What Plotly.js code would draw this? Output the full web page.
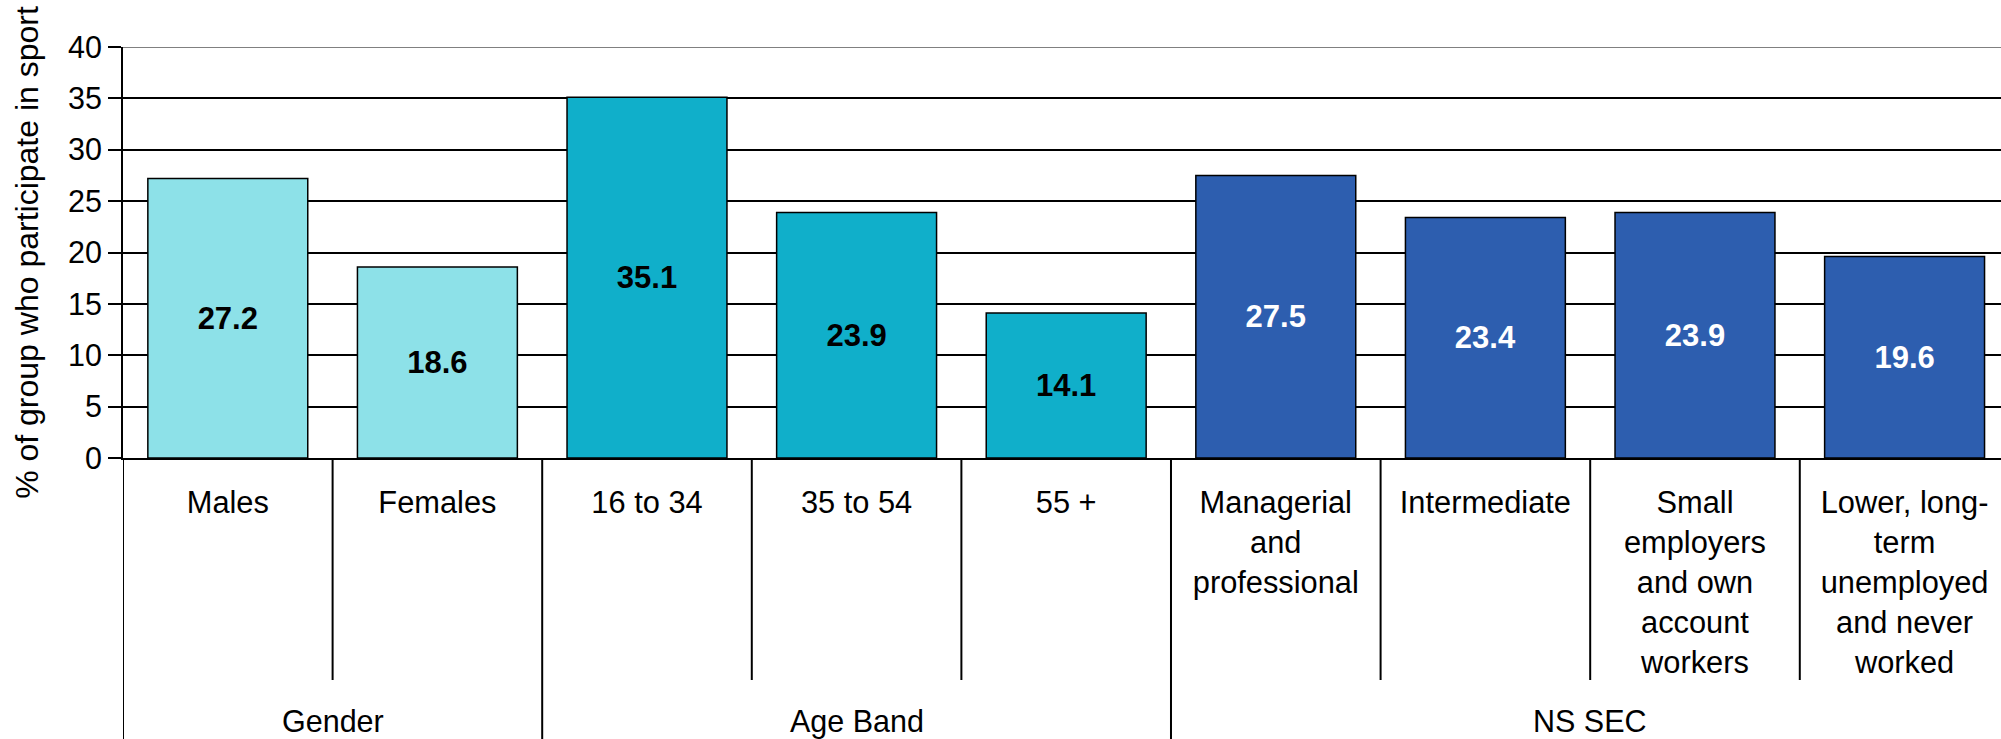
<!DOCTYPE html>
<html>
<head>
<meta charset="utf-8">
<script src="https://cdn.plot.ly/plotly-3.0.1.min.js"></script>
<style>html,body{margin:0;padding:0;background:#fff;}#chart{width:2001px;height:739px;}</style>
</head>
<body>
<div id="chart"></div>
<script>
// ---- data ----
const categories = ["Males", "Females", "16 to 34", "35 to 54", "55 +",
  "Managerial<br>and<br>professional", "Intermediate",
  "Small<br>employers<br>and own<br>account<br>workers",
  "Lower, long-<br>term<br>unemployed<br>and never<br>worked"];
const groups = ["Gender", "Gender", "Age Band", "Age Band", "Age Band",
  "NS SEC", "NS SEC", "NS SEC", "NS SEC"];
const values = [27.2, 18.6, 35.1, 23.9, 14.1, 27.5, 23.4, 23.9, 19.6];
const yTicks = [0, 5, 10, 15, 20, 25, 30, 35, 40];
const yTitle = "% of group who participate in sport";

// ---- styles ----
const groupColor = {"Gender": "#8DE1E8", "Age Band": "#10AFCA", "NS SEC": "#2D5EAF"};
const groupTextColor = {"Gender": "#000000", "Age Band": "#000000", "NS SEC": "#FFFFFF"};
const FONT = "Liberation Sans, Arial, sans-serif";

const xs = categories.map((_, i) => i);

const trace = {
  type: "bar",
  x: xs,
  y: values,
  marker: {color: groups.map(g => groupColor[g]), line: {color: "#000", width: 1.5}},
  text: values.map(v => v.toFixed(1)),
  texttemplate: "<b>%{text}</b>",
  textposition: "inside",
  insidetextanchor: "middle",
  textangle: 0,
  constraintext: "none",
  insidetextfont: {family: FONT, size: 31, color: groups.map(g => groupTextColor[g])},
  hoverinfo: "skip"
};

// dividers below axis
const shapes = [];
const LONG = -(739 - 458) / 411, SHORT = -(680 - 458) / 411;
shapes.push({type: "line", xref: "x", yref: "paper", x0: -0.5, x1: -0.5, y0: 0, y1: LONG,
  line: {color: "#000", width: 2}});
for (let i = 0; i < categories.length - 1; i++) {
  const isGroup = groups[i] !== groups[i + 1];
  shapes.push({type: "line", xref: "x", yref: "paper", x0: i + 0.5, x1: i + 0.5, y0: 0,
    y1: isGroup ? LONG : SHORT, line: {color: "#000", width: 2}});
}
// grey top border at max
shapes.push({type: "line", xref: "paper", yref: "y", x0: 0, x1: 1, y0: yTicks[yTicks.length - 1],
  y1: yTicks[yTicks.length - 1], line: {color: "#808080", width: 2}, layer: "above"});

// group labels
const annotations = [];
const uniqueGroups = [...new Set(groups)];
uniqueGroups.forEach(g => {
  const idx = xs.filter(i => groups[i] === g);
  const center = (idx[0] + idx[idx.length - 1]) / 2;
  annotations.push({text: g, xref: "x", yref: "paper", x: center, y: -(702 - 458) / 411,
    yanchor: "top", xanchor: "center", showarrow: false, font: {family: FONT, size: 30.5, color: "#000"}});
});

const layout = {
  width: 2001, height: 739,
  margin: {l: 123, r: 0, t: 47, b: 281, pad: 0},
  paper_bgcolor: "#fff", plot_bgcolor: "#fff",
  font: {family: FONT, size: 30, color: "#000"},
  showlegend: false,
  bargap: 0.237,
  xaxis: {
    range: [-0.5, 8.46], tickvals: xs, ticktext: categories, ticks: "",
    showgrid: false, zeroline: false, showline: true, linecolor: "#000", linewidth: 2,
    tickfont: {family: FONT, size: 30.8, color: "#000"}, ticklabelstandoff: 16, fixedrange: true
  },
  yaxis: {
    range: [0, 40], tickvals: yTicks, ticks: "outside", ticklen: 13, tickwidth: 2, tickcolor: "#000",
    showline: true, linecolor: "#000", linewidth: 2, showgrid: true, gridcolor: "#000", gridwidth: 2,
    zeroline: false, tickfont: {family: FONT, size: 30.5, color: "#000"},
    title: {text: yTitle, font: {family: FONT, size: 32, color: "#000"}, standoff: 20},
    automargin: false, fixedrange: true
  },
  shapes: shapes,
  annotations: annotations
};

Plotly.newPlot("chart", [trace], layout, {staticPlot: true, displayModeBar: false});
</script>
</body>
</html>
